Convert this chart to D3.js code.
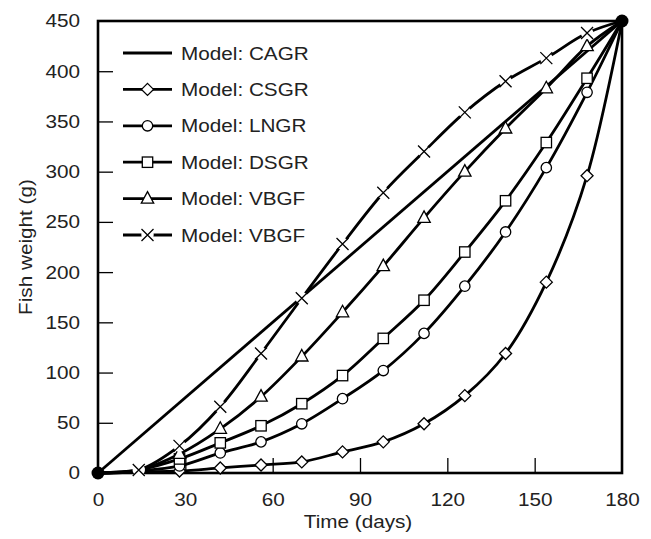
<!DOCTYPE html>
<html><head><meta charset="utf-8">
<script src="https://cdn.jsdelivr.net/npm/d3@7"></script>
<style>body{margin:0;background:#fff}svg{display:block}</style>
</head><body>
<svg id="c" width="651" height="539"></svg>
<script>
const days = [0,14,28,42,56,70,84,98,112,126,140,154,168,180];
const cagrDays = [0,180];
const cagr = [0,450];
const csgr = [0,1,2,5,8,11,21,31,49,77,119,190,296,450];
const lngr = [0,2,7,20,31,49,74,102,139,186,240,304,379,450];
const dsgr = [0,3,14,30,47,69,97,134,172,220,271,329,393,450];
const vbgf1 = [0,3,19,44,76,116,160,206,254,300,343,383,425,450];
const vbgf2 = [0,3,27,66,119,174,228,279,320,359,390,413,438,450];
const seriesNames = ["Model: CAGR","Model: CSGR","Model: LNGR","Model: DSGR","Model: VBGF","Model: VBGF"];
const xTicks = [0,30,60,90,120,150,180];
const yTicks = [0,50,100,150,200,250,300,350,400,450];

const series = [
  {name:seriesNames[0], xs:cagrDays, ys:cagr, marker:null, from:99},
  {name:seriesNames[1], xs:days, ys:csgr, marker:"diamond", from:2},
  {name:seriesNames[2], xs:days, ys:lngr, marker:"circle", from:2},
  {name:seriesNames[3], xs:days, ys:dsgr, marker:"square", from:2},
  {name:seriesNames[4], xs:days, ys:vbgf1, marker:"triangle", from:2},
  {name:seriesNames[5], xs:days, ys:vbgf2, marker:"cross", from:1}
];

const svg = d3.select("#c");
const x = d3.scaleLinear().domain([0,180]).range([98,622]);
const y = d3.scaleLinear().domain([0,450]).range([473,21]);
const FONT = "'Liberation Sans', Arial, Helvetica, sans-serif";
const FS = 18.5, SX = 1.12;

// axes
const gx = svg.append("g").attr("transform","translate(0,473)")
  .call(d3.axisBottom(x).tickValues(xTicks).tickSize(-15).tickPadding(20).tickFormat(d3.format("d")));
const gy = svg.append("g").attr("transform","translate(98,0)")
  .call(d3.axisLeft(y).tickValues(yTicks).tickSize(-15).tickPadding(16).tickFormat(d3.format("d")));
[gx,gy].forEach(g=>{
  g.select(".domain").remove();
  g.selectAll(".tick line").attr("stroke","#000").attr("stroke-width",1.3);
  g.selectAll(".tick text").attr("fill","#222").style("font-family",FONT).style("font-size",FS+"px")
    .attr("transform",`scale(${SX},1)`);
});
gx.selectAll(".tick").filter(d=>d===0||d===180).select("line").remove();
gy.selectAll(".tick").filter(d=>d===0||d===450).select("line").remove();

// frame
svg.append("rect").attr("x",x(0)).attr("y",y(450)).attr("width",x(180)-x(0)).attr("height",y(0)-y(450))
  .attr("fill","none").attr("stroke","#000").attr("stroke-width",2.6);

// axis titles
svg.append("text").attr("transform",`translate(${x(90)-2},528) scale(${SX},1)`).attr("text-anchor","middle")
  .style("font-family",FONT).style("font-size",FS+"px").attr("fill","#222").text("Time (days)");
svg.append("text").attr("transform",`translate(32,${(y(0)+y(450))/2}) rotate(-90) scale(${SX},1)`).attr("text-anchor","middle")
  .style("font-family",FONT).style("font-size",FS+"px").attr("fill","#222").text("Fish weight (g)");

function drawMarker(g, type, cx, cy){
  const st = {fill:"#fff", stroke:"#000", "stroke-width":1.3};
  let el;
  if(type==="circle"){ el=g.append("circle").attr("cx",cx).attr("cy",cy).attr("r",5.2); }
  else if(type==="square"){ el=g.append("rect").attr("x",cx-5.2).attr("y",cy-5.2).attr("width",10.4).attr("height",10.4); }
  else if(type==="diamond"){ el=g.append("path").attr("d",`M${cx},${cy-6}L${cx+6},${cy}L${cx},${cy+6}L${cx-6},${cy}Z`); }
  else if(type==="triangle"){ el=g.append("path").attr("d",`M${cx},${cy-7}L${cx+6.2},${cy+4.5}L${cx-6.2},${cy+4.5}Z`); }
  else if(type==="cross"){
    g.append("circle").attr("cx",cx).attr("cy",cy).attr("r",6.2).attr("fill","#fff");
    el=g.append("path").attr("d",`M${cx-6},${cy-6}L${cx+6},${cy+6}M${cx+6},${cy-6}L${cx-6},${cy+6}`);
    st.fill="none";
  }
  if(el) Object.entries(st).forEach(([k,v])=>el.attr(k,v));
}

// lines
const line = d3.line().x(d=>x(d[0])).y(d=>y(d[1])).curve(d3.curveCatmullRom.alpha(0.5));
const plot = svg.append("g");
series.forEach(s=>{
  const pts = s.xs.map((d,i)=>[d,s.ys[i]]);
  plot.append("path").attr("d",line(pts)).attr("fill","none").attr("stroke","#000").attr("stroke-width",2.8)
    .attr("stroke-linejoin","round");
});
series.forEach(s=>{
  if(!s.marker) return;
  const g = plot.append("g");
  s.xs.forEach((d,i)=>{
    if(i<s.from || i>=s.xs.length-1) return;
    drawMarker(g, s.marker, x(d), y(s.ys[i]));
  });
});
// end dots
svg.append("circle").attr("cx",x(0)).attr("cy",y(0)).attr("r",6.5).attr("fill","#000");
svg.append("circle").attr("cx",x(180)).attr("cy",y(450)).attr("r",6.5).attr("fill","#000");

// legend
const leg = svg.append("g");
series.forEach((s,i)=>{
  const ly = 53 + i*36.4;
  const g = leg.append("g");
  g.append("line").attr("x1",123).attr("x2",172).attr("y1",ly).attr("y2",ly).attr("stroke","#000").attr("stroke-width",2.8);
  if(s.marker) drawMarker(g, s.marker, 147.5, ly);
  g.append("text").attr("transform",`translate(181,${ly+6.6}) scale(${SX},1)`)
    .style("font-family",FONT).style("font-size",FS+"px").attr("fill","#222").text(s.name);
});
</script>
</body></html>
